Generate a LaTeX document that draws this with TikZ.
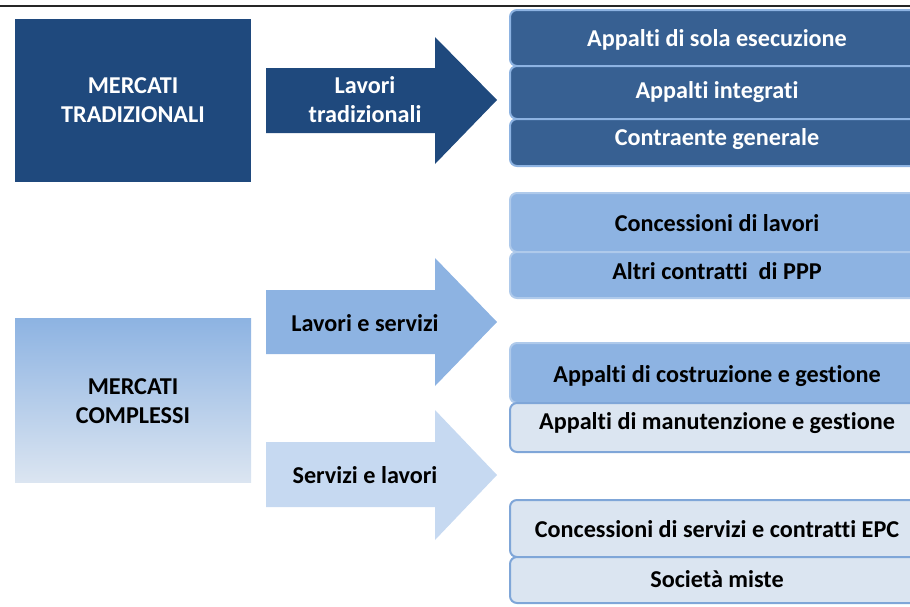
\documentclass[tikz,border=0pt]{standalone}
\usepackage{fontspec}
\setmainfont[Ligatures=NoCommon]{Carlito}
\usepackage{tikz}

\definecolor{darkblue}{HTML}{1F497D}
\definecolor{midblue}{HTML}{376092}
\definecolor{lightblue}{HTML}{8DB3E2}
\definecolor{paleblue}{HTML}{C6D9F1}
\definecolor{whiteblue}{HTML}{DBE5F1}
\definecolor{edgeblue}{HTML}{7FA6D8}

\begin{document}
\begin{tikzpicture}[x=0.5pt, y=-0.5pt, every node/.style={font=\fontsize{12.1}{14.5}\selectfont\bfseries, align=center}]
  \tikzstyle{rowbox}=[rounded corners=3.5pt, line width=1pt, draw=edgeblue]
  \tikzstyle{label}=[inner sep=0pt]

\clip (0,0) rectangle (910,606);
\draw[line width=0.8pt, black!85] (0,6) -- (910,6);

% markets
\fill[darkblue] (15,19) rectangle (251,182);
\node[label, text=white] (trad) at (133,100) {MERCATI\\TRADIZIONALI};

\shade[top color=lightblue, bottom color=whiteblue] (15,318) rectangle (251,482);
\node[label] (compl) at (133,401) {MERCATI\\COMPLESSI};

% arrows
\fill[darkblue] (266,68) -- (435,68) -- (435,37) -- (497,100) -- (435,164) -- (435,133) -- (266,133) -- cycle;
\node[label, text=white] (lt) at (365,100) {Lavori\\tradizionali};

\fill[lightblue] (266,290) -- (435,290) -- (435,258) -- (497,322) -- (435,386) -- (435,354) -- (266,354) -- cycle;
\node[label] (ls) at (365,323) {Lavori e servizi};

\fill[paleblue] (266,442) -- (435,442) -- (435,410) -- (497,475) -- (435,540) -- (435,507) -- (266,507) -- cycle;
\node[label] (sl) at (365,475) {Servizi e lavori};

% traditional contracts
\draw[rowbox, fill=midblue, draw=lightblue] (510,10) rectangle (924,66);
\draw[rowbox, fill=midblue, draw=lightblue] (510,66) rectangle (924,119);
\draw[rowbox, fill=midblue, draw=lightblue] (510,119) rectangle (924,166);
\node[label, text=white] (a1) at (717,40) {Appalti di sola esecuzione};
\node[label, text=white] (a2) at (717,92) {Appalti integrati};
\node[label, text=white] (a3) at (717,139) {Contraente generale};

% works and services
\draw[rowbox, fill=lightblue, draw=lightblue!70!white] (510,193) rectangle (924,252);
\draw[rowbox, fill=lightblue, draw=lightblue!70!white] (510,252) rectangle (924,298);
\node[label] (b1) at (717,223) {Concessioni di lavori};
\node[label] (b2) at (717,271) {Altri contratti \ di PPP};

\draw[rowbox, fill=lightblue, draw=lightblue!70!white] (510,343) rectangle (924,403);
\draw[rowbox, fill=whiteblue] (510,403) rectangle (924,452);
\node[label] (c1) at (717,376) {Appalti di costruzione e gestione};
\node[label] (c2) at (717,423) {Appalti di manutenzione e gestione};

% services and works
\draw[rowbox, fill=whiteblue] (510,500) rectangle (924,557);
\draw[rowbox, fill=whiteblue] (510,557) rectangle (924,603);
\node[label] (d1) at (717,529) {Concessioni di servizi e contratti EPC};
\node[label] (d2) at (717,579) {Società miste};

\end{tikzpicture}
\end{document}
